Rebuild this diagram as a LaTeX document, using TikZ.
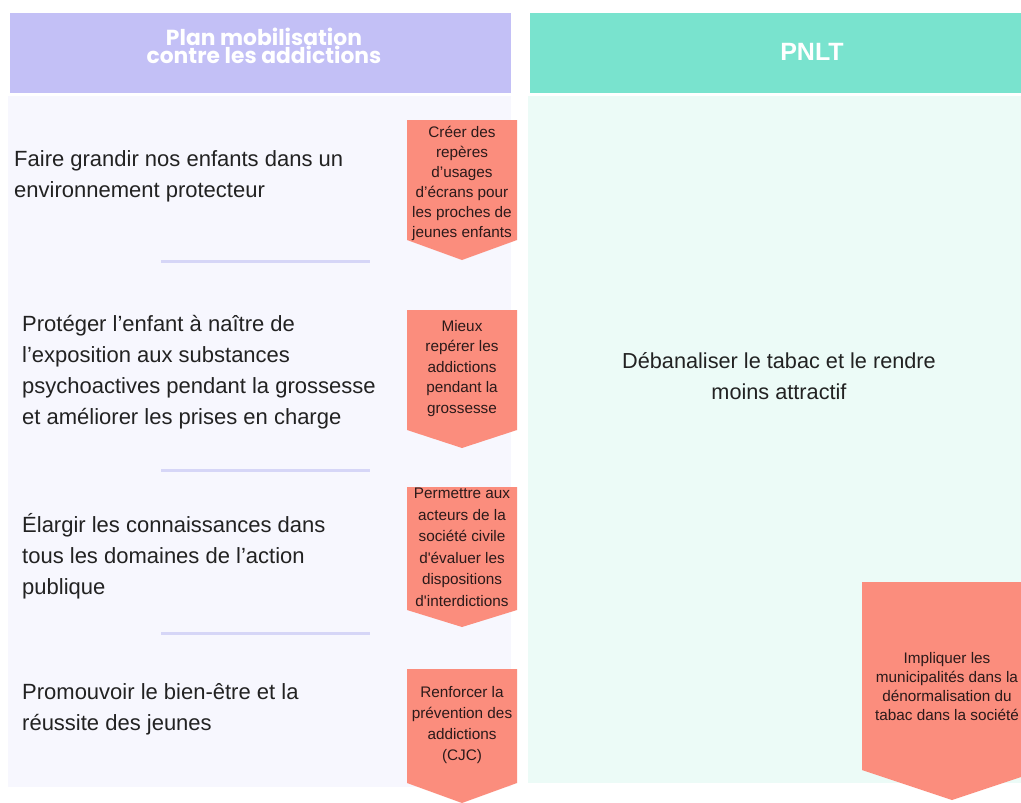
\documentclass[tikz,border=0pt]{standalone}
\usepackage{fontspec}
\setmainfont{Liberation Sans}[Ligatures=TeXOff]
\newfontfamily\hdfont{Poppins}
\definecolor{lavhead}{HTML}{C3C0F6}
\definecolor{lavbody}{HTML}{F7F7FE}
\definecolor{lavsep}{HTML}{D6D6F7}
\definecolor{tealhead}{HTML}{79E3CE}
\definecolor{tealbody}{HTML}{ECFBF7}
\definecolor{salmon}{HTML}{FB8D7D}
\definecolor{txtdark}{HTML}{222222}
\definecolor{arrtext}{HTML}{2B1A1A}
\tikzset{
  lefttxt/.style={anchor=base west, align=left, inner sep=0pt, font=\fontsize{22}{31}\selectfont, text=txtdark},
  righttxt/.style={anchor=base, align=center, inner sep=0pt, font=\fontsize{21.7}{31}\selectfont, text=txtdark},
  arrtxt/.style={anchor=base, align=center, inner sep=0pt, font=\fontsize{15.3}{20}\selectfont, text=arrtext},
  headtxt/.style={anchor=base, align=center, inner sep=0pt, text=white},
  arrowbox/.style={fill=salmon},
  sepline/.style={draw=lavsep, line width=3pt}
}
\begin{document}
\begin{tikzpicture}[x=1pt,y={(0pt,-1pt)}]
\useasboundingbox (0,0) rectangle (1021,803);
\fill[white] (0,0) rectangle (1021,803);
\begin{scope}
\clip (0,0) rectangle (1021,803);
% panels
\fill[lavhead] (10,13) rectangle (511,93);
\fill[lavbody] (8,96) rectangle (511,787);
\fill[tealhead] (530,13) rectangle (1021,93);
\fill[tealbody] (528,96) rectangle (1021,783);
% headers
\node[headtxt, font=\hdfont\bfseries\fontsize{21.8}{18.5}\selectfont] (hleft) at (264,63.5) {Plan mobilisation\\contre les addictions};
\node[headtxt, font=\bfseries\fontsize{25}{28}\selectfont] (hright) at (812,60) {PNLT};
% separators
\coordinate (s1a) at (161,261); \coordinate (s1b) at (370,261);
\coordinate (s2a) at (161,470); \coordinate (s2b) at (370,470);
\coordinate (s3a) at (161,633); \coordinate (s3b) at (370,633);
\draw[sepline] (s1a) -- (s1b);
\draw[sepline] (s2a) -- (s2b);
\draw[sepline] (s3a) -- (s3b);
% left texts (anchored at the baseline of the last line)
\node[lefttxt] (t1) at (14,197) {Faire grandir nos enfants dans un\\environnement protecteur};
\node[lefttxt] (t2) at (22,424) {Protéger l’enfant à naître de\\l’exposition aux substances\\psychoactives pendant la grossesse\\et améliorer les prises en charge};
\node[lefttxt] (t3) at (22,594) {Élargir les connaissances dans\\tous les domaines de l’action\\publique};
\node[lefttxt] (t4) at (22,730) {Promouvoir le bien-être et la\\réussite des jeunes};
% right text
\node[righttxt] (tr) at (779,399) {Débanaliser le tabac et le rendre\\moins attractif};
% arrows
\fill[arrowbox] (407,120) -- (517,120) -- (517,240) -- (462,260) -- (407,240) -- cycle;
\fill[arrowbox] (407,310) -- (517,310) -- (517,430) -- (462,448) -- (407,430) -- cycle;
\fill[arrowbox] (407,487) -- (517,487) -- (517,610) -- (462,627) -- (407,610) -- cycle;
\fill[arrowbox] (407,669) -- (517,669) -- (517,783) -- (462,803) -- (407,783) -- cycle;
\fill[arrowbox] (862,582) -- (1042,582) -- (1042,770) -- (952,800) -- (862,770) -- cycle;
\node[arrtxt] (a1) at (462,237) {Créer des\\repères\\d’usages\\d’écrans pour\\les proches de\\jeunes enfants};
\node[arrtxt, font=\fontsize{15.3}{20.5}\selectfont] (a2) at (462,413) {Mieux\\repérer les\\addictions\\pendant la\\grossesse};
\node[arrtxt, font=\fontsize{15.3}{21.5}\selectfont] (a3) at (462,606) {Permettre aux\\acteurs de la\\société civile\\d'évaluer les\\dispositions\\d'interdictions};
\node[arrtxt, font=\fontsize{15.3}{21}\selectfont] (a4) at (462,760) {Renforcer la\\prévention des\\addictions\\(CJC)};
\node[arrtxt, font=\fontsize{15.3}{19}\selectfont] (a5) at (947,720) {Impliquer les\\municipalités dans la\\dénormalisation du\\tabac dans la société};
\end{scope}
\end{tikzpicture}
\end{document}
